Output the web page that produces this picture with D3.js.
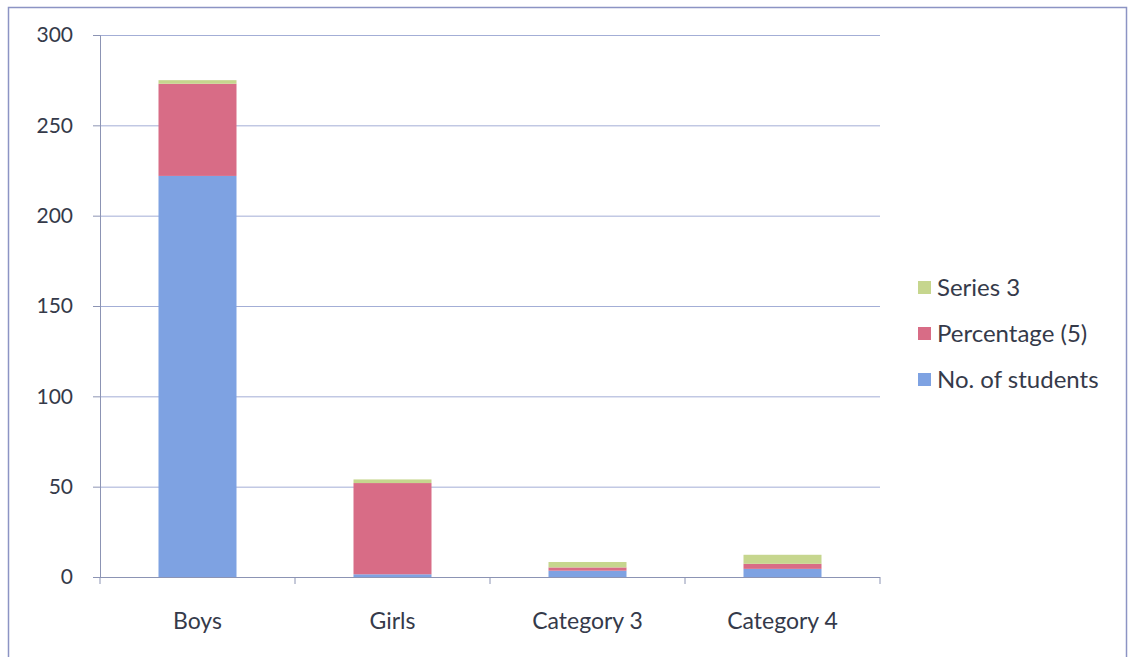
<!DOCTYPE html>
<html>
<head>
<meta charset="utf-8">
<script src="https://d3js.org/d3.v7.min.js"></script>
<style>
    body { margin: 0; background: #fff; }
    text { font-family: Lato, "Open Sans", sans-serif; fill: #353a4a; }
</style>
</head>
<body>
<div id="chart"></div>
<script>
// data
var categories = ["Boys", "Girls", "Category 3", "Category 4"];
var seriesNames = ["No. of students", "Percentage (5)", "Series 3"];
var students = [222, 1.5, 3.5, 4.5];
var percentage = [51, 50.5, 1.8, 2.8];
var series3 = [2, 2, 3, 5];
var yTicks = [0, 50, 100, 150, 200, 250, 300];
var colors = ["#7ea2e2", "#d86c86", "#c6d68e"];

var width = 1131, height = 657;
var margin = {top: 35, left: 100, right: 251, bottom: 80};
var plotW = width - margin.left - margin.right,
    plotH = height - margin.top - margin.bottom;

var rows = categories.map(function (c, i) {
    return {cat: c, s0: students[i], s1: percentage[i], s2: series3[i]};
});
var stack = d3.stack().keys(["s0", "s1", "s2"]);
var layers = stack(rows);

var xScale = d3.scaleBand().domain(categories).range([0, plotW]).paddingInner(0.6).paddingOuter(0.3);
var yScale = d3.scaleLinear().domain([0, 300]).range([plotH, 0]);

var svg = d3.select("#chart").append("svg")
    .attr("width", width)
    .attr("height", height);

// outer chart border
svg.append("rect")
    .attr("x", 8.5).attr("y", 7.5)
    .attr("width", 1118).attr("height", 670)
    .attr("fill", "none")
    .attr("stroke", "#8c94c4")
    .attr("stroke-width", 1.5);

var g = svg.append("g")
    .attr("transform", "translate(" + margin.left + "," + margin.top + ")");

// gridlines
g.selectAll(".grid")
    .data(yTicks.slice(1))
    .enter().append("line")
    .attr("class", "grid")
    .attr("x1", 0).attr("x2", plotW)
    .attr("y1", function (d) { return yScale(d) + 0.5; })
    .attr("y2", function (d) { return yScale(d) + 0.5; })
    .attr("stroke", "#a3aed6")
    .attr("stroke-width", 1);

// bars
g.selectAll(".layer")
    .data(layers)
    .enter().append("g")
    .attr("class", "layer")
    .attr("fill", function (d, i) { return colors[i]; })
    .selectAll("rect")
    .data(function (d) { return d; })
    .enter().append("rect")
    .attr("x", function (d) { return xScale(d.data.cat); })
    .attr("y", function (d) { return yScale(d[1]); })
    .attr("width", xScale.bandwidth())
    .attr("height", function (d) { return yScale(d[0]) - yScale(d[1]); });

// y axis
var yAxis = d3.axisLeft(yScale).tickValues(yTicks).tickSize(7).tickPadding(20);
var yG = g.append("g").attr("class", "y axis").call(yAxis);
yG.selectAll("text").style("font-size", "21px");

// x axis with ticks between categories
var xAxisG = g.append("g").attr("transform", "translate(0," + plotH + ")");
xAxisG.append("line")
    .attr("x1", 0).attr("x2", plotW)
    .attr("y1", 0.5).attr("y2", 0.5);
var step = plotW / categories.length;
xAxisG.selectAll(".xtick")
    .data(d3.range(categories.length + 1))
    .enter().append("line")
    .attr("class", "xtick")
    .attr("x1", function (d) { return d * step; })
    .attr("x2", function (d) { return d * step; })
    .attr("y1", 0).attr("y2", 7);
xAxisG.selectAll("line").attr("stroke", "#8c94b4");
xAxisG.selectAll(".xlabel")
    .data(categories)
    .enter().append("text")
    .attr("class", "xlabel")
    .attr("x", function (d) { return xScale(d) + xScale.bandwidth() / 2; })
    .attr("y", 52)
    .attr("text-anchor", "middle")
    .style("font-size", "23px")
    .text(function (d) { return d; });

yG.select(".domain").attr("stroke", "#8c94b4");
yG.selectAll(".tick line").attr("stroke", "#8c94b4");

// legend, reversed order like Excel
var legend = svg.append("g").attr("transform", "translate(918,0)");
var legendItems = seriesNames.map(function (n, i) { return {name: n, color: colors[i]}; }).reverse();
var li = legend.selectAll(".leg")
    .data(legendItems)
    .enter().append("g")
    .attr("transform", function (d, i) { return "translate(0," + (288 + i * 46) + ")"; });
li.append("rect")
    .attr("x", 0).attr("y", -7)
    .attr("width", 13).attr("height", 13)
    .attr("fill", function (d) { return d.color; });
li.append("text")
    .attr("x", 19).attr("y", 0)
    .attr("dy", "0.35em")
    .style("font-size", "24px")
    .text(function (d) { return d.name; });
</script>
</body>
</html>
